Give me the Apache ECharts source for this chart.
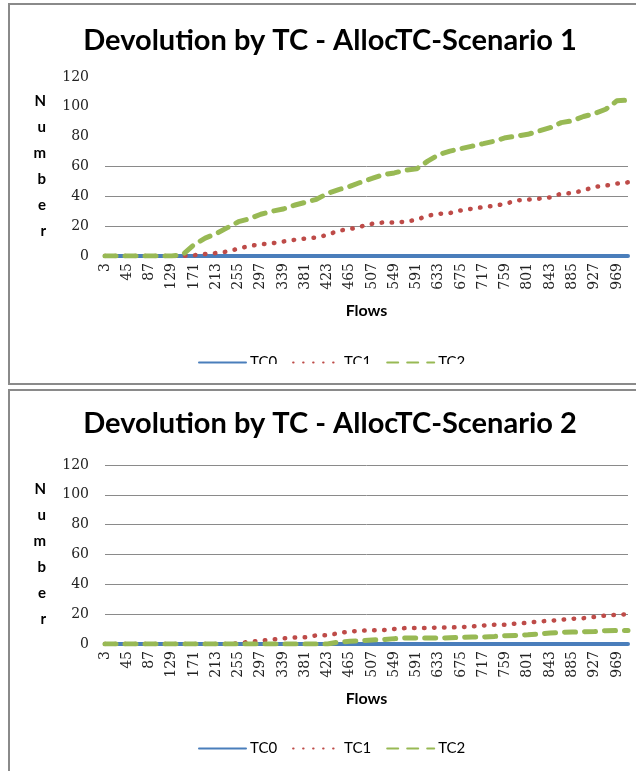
<!DOCTYPE html>
<html>
<head>
<meta charset="utf-8">
<script src="https://cdn.jsdelivr.net/npm/echarts@6/dist/echarts.min.js"></script>
<style>
  body { margin: 0; background: #fff; width: 636px; height: 771px; overflow: hidden; position: relative; }
  .frame { position: absolute; left: 8px; width: 700px; border: 2px solid #8a8a8a; box-sizing: border-box; }
  .chart { position: absolute; left: 0; width: 636px; }
</style>
</head>
<body>
<div class="frame" style="top:3px;height:382px;"></div>
<div class="frame" style="top:389px;height:400px;"></div>
<div id="chart1" class="chart" style="top:0;height:364px;"></div>
<div id="chart2" class="chart" style="top:385px;height:386px;"></div>
<script>
// Flows, every 21 from 3 to 990
const flows = [3, 24, 45, 66, 87, 108, 129, 150, 171, 192, 213, 234, 255, 276, 297, 318,
    339, 360, 381, 402, 423, 444, 465, 486, 507, 528, 549, 570, 591, 612, 633, 654,
    675, 696, 717, 738, 759, 780, 801, 822, 843, 864, 885, 906, 927, 948, 969, 990];

const seriesNames = ['TC0', 'TC1', 'TC2'];

// Scenario 1
const s1TC0 = [0, 0, 0, 0, 0, 0, 0, 0, 0, 0, 0, 0, 0, 0, 0, 0,
    0, 0, 0, 0, 0, 0, 0, 0, 0, 0, 0, 0, 0, 0, 0, 0,
    0, 0, 0, 0, 0, 0, 0, 0, 0, 0, 0, 0, 0, 0, 0, 0];
const s1TC1 = [0, 0, 0, 0, 0, 0, 0, 0, 0.5, 1.3, 2, 3, 5, 6.7, 7.9, 8.5,
    9.7, 10.8, 11.7, 12.4, 14.2, 17, 18, 19.8, 21.6, 22.5, 22.5, 23, 24.3, 27, 28.3, 28.8,
    30.6, 31.7, 32.8, 33.7, 35, 37.3, 37.8, 38.4, 39.3, 41.8, 42.2, 44, 46.3, 47.2, 48.5, 49.4];
const s1TC2 = [0, 0, 0, 0, 0, 0, 0, 1, 7.5, 12, 15, 19, 23, 25, 28, 30,
    31.5, 34, 36, 38, 42, 44.5, 46.7, 49.5, 52, 54.6, 55.7, 57.5, 58.4, 63.6, 68, 70.3,
    72, 73.7, 75.3, 77, 79.3, 80.4, 81.6, 83.8, 86, 89.4, 90.6, 93.5, 95.5, 98.4, 104, 104.5];

// Scenario 2
const s2TC0 = [0, 0, 0, 0, 0, 0, 0, 0, 0, 0, 0, 0, 0, 0, 0, 0,
    0, 0, 0, 0, 0, 0, 0, 0, 0, 0, 0, 0, 0, 0, 0, 0,
    0, 0, 0, 0, 0, 0, 0, 0, 0, 0, 0, 0, 0, 0, 0, 0];
const s2TC1 = [0, 0, 0, 0, 0, 0, 0, 0, 0, 0, 0, 0, 0.5, 1.5, 2.2, 3,
    3.8, 4.4, 4.5, 5.8, 5.8, 7.3, 8.4, 8.9, 9.3, 9.3, 10, 10.7, 10.7, 10.7, 11.1, 11.1,
    11.3, 11.8, 12.4, 12.9, 12.9, 13.8, 14.2, 15.1, 15.6, 16.2, 16.9, 17.3, 18.2, 19.1, 19.6, 20];
const s2TC2 = [0, 0, 0, 0, 0, 0, 0, 0, 0, 0, 0, 0, 0, 0, 0, 0,
    0, 0, 0, 0, 0, 1.3, 1.8, 2.2, 2.7, 2.9, 3.6, 4, 4, 4, 4, 4.2,
    4.4, 4.7, 4.7, 5.1, 5.6, 5.8, 6.2, 6.7, 7.3, 7.8, 8, 8.2, 8.4, 8.9, 9.1, 9.1];

const yTicks = [0, 20, 40, 60, 80, 100, 120];

const sansFont = 'Lato';
const serifFont = 'DejaVu Serif';

// Build one chart; gridColors lets the top chart hide its upper gridlines like the original
function makeChart(elementId, title, data, gridTop, titleTop, legendTop, gridColors) {
    var chart = echarts.init(document.getElementById(elementId));
    var option = {
        animation: false,
        title: {
            text: title,
            left: 325,
            textAlign: 'center',
            top: titleTop,
            textStyle: { fontFamily: sansFont, fontWeight: 'bold', fontSize: 29, color: '#000' }
        },
        legend: {
            data: seriesNames,
            left: 193,
            top: legendTop,
            itemWidth: 47,
            itemHeight: 12,
            itemGap: 15,
            itemStyle: { opacity: 0 },
            textStyle: { fontFamily: sansFont, fontSize: 15, color: '#000', padding: [0, 0, 0, -1] }
        },
        grid: { left: 105, top: gridTop, width: 523, height: 179 },
        xAxis: {
            type: 'category',
            data: flows,
            boundaryGap: false,
            name: 'Flows',
            nameLocation: 'middle',
            nameGap: 47,
            nameTextStyle: { fontFamily: sansFont, fontWeight: 'bold', fontSize: 16, color: '#000' },
            axisLine: { show: false },
            axisTick: { show: false },
            axisLabel: {
                interval: 1,
                rotate: 90,
                margin: 7,
                fontFamily: serifFont,
                fontSize: 14,
                color: '#222'
            }
        },
        yAxis: {
            type: 'value',
            min: yTicks[0],
            max: yTicks[yTicks.length - 1],
            interval: 20,
            name: 'N\nu\nm\nb\ne\nr',
            nameLocation: 'middle',
            nameRotate: 0,
            nameGap: 59,
            nameTextStyle: {
                fontFamily: sansFont, fontWeight: 'bold', fontSize: 15, lineHeight: 26,
                color: '#000', padding: [9, 0, 0, 0]
            },
            axisLine: { show: false },
            axisTick: { show: false },
            axisLabel: { margin: 16, fontFamily: serifFont, fontSize: 14, color: '#222' },
            splitLine: { lineStyle: { color: gridColors, width: 1 } }
        },
        series: [
            {
                name: 'TC0', type: 'line', data: data[0], symbol: 'none',
                color: '#4a7ebb',
                lineStyle: { color: '#4a7ebb', width: 4, cap: 'round' }
            },
            {
                name: 'TC1', type: 'line', data: data[1], symbol: 'none',
                color: '#be4b48',
                lineStyle: { color: '#be4b48', width: 4.5, type: [0.5, 9.5], cap: 'round' }
            },
            {
                name: 'TC2', type: 'line', data: data[2], symbol: 'none',
                color: '#98b954',
                lineStyle: { color: '#98b954', width: 5, type: [11, 9], cap: 'round' }
            }
        ]
    };
    chart.setOption(option);
}

makeChart('chart1', 'Devolution by TC - AllocTC-Scenario 1', [s1TC0, s1TC1, s1TC2], 77, 21, 350,
    ['#8a8a8a', '#8a8a8a', '#8a8a8a', '#8a8a8a', 'rgba(0,0,0,0)', 'rgba(0,0,0,0)', 'rgba(0,0,0,0)']);
makeChart('chart2', 'Devolution by TC - AllocTC-Scenario 2', [s2TC0, s2TC1, s2TC2], 80, 19, 351,
    ['#8a8a8a']);
</script>
</body>
</html>
